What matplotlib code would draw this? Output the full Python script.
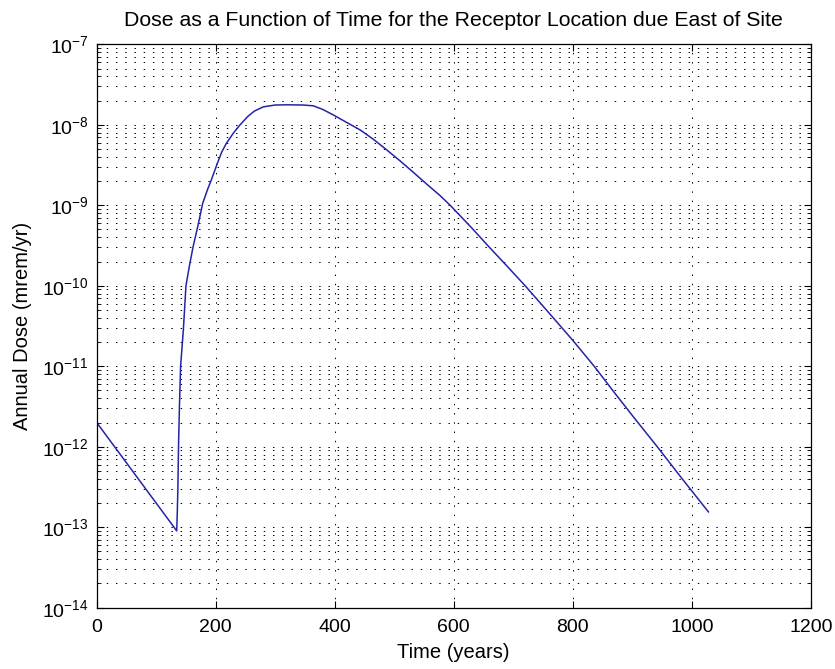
import numpy as np
import matplotlib
matplotlib.use("Agg")
import matplotlib.pyplot as plt
from matplotlib.ticker import LogLocator, FixedLocator, NullFormatter

plt.rcParams['font.family'] = ['Liberation Sans', 'DejaVu Sans']
plt.rcParams['mathtext.default'] = 'regular'

# Data
time_years = [0, 134.5, 135.5, 136.5, 137.5, 139, 141, 145.6, 150, 156, 162, 170,
              178, 186, 193, 202, 210, 218, 230, 241, 254, 265, 280, 300, 320,
              347, 364, 380, 398, 420, 443, 465, 487, 510, 532, 555, 577, 594,
              630, 660, 690, 720, 760, 800, 836, 870, 905, 942, 985, 1028]
annual_dose = [2.0e-12, 9.0e-14, 1.6e-13, 3.2e-13, 1.0e-12, 3.1e-12, 1.0e-11,
               2.8e-11, 1.0e-10, 1.8e-10, 3.05e-10, 5.5e-10,
               1.05e-9, 1.55e-9, 2.1e-9, 3.2e-9, 4.57e-9, 5.9e-9, 7.94e-9, 1.0e-8,
               1.27e-8, 1.48e-8, 1.67e-8, 1.76e-8, 1.77e-8,
               1.76e-8, 1.72e-8, 1.55e-8, 1.32e-8, 1.07e-8, 8.6e-9, 6.6e-9, 4.9e-9,
               3.55e-9, 2.57e-9, 1.82e-9, 1.32e-9, 1.0e-9,
               5.25e-10, 3.0e-10, 1.74e-10, 1.0e-10, 4.6e-11, 2.1e-11, 1.0e-11,
               4.7e-12, 2.2e-12, 1.0e-12, 3.9e-13, 1.55e-13]

title_text = "Dose as a Function of Time for the Receptor Location due East of Site"
xlabel_text = "Time (years)"
ylabel_text = "Annual Dose (mrem/yr)"
x_ticks = [0, 200, 400, 600, 800, 1000, 1200]
y_ticks = [1e-14, 1e-13, 1e-12, 1e-11, 1e-10, 1e-9, 1e-8, 1e-7]

fig = plt.figure(figsize=(8.35, 6.69), dpi=100)
ax = fig.add_axes([0.1158, 0.0916, 0.971 - 0.1158, 0.9338 - 0.0916])

ax.semilogy(time_years, annual_dose, color='#2424a8', linewidth=1.1)

ax.set_xlim(0, 1200)
ax.set_ylim(1e-14, 1e-7)
ax.xaxis.set_major_locator(FixedLocator(x_ticks))
ax.yaxis.set_major_locator(FixedLocator(y_ticks))
ax.yaxis.set_minor_locator(LogLocator(base=10, subs=np.arange(2, 10), numticks=100))
ax.yaxis.set_minor_formatter(NullFormatter())

dot = (0, (1.5, 8))
ax.grid(True, which='major', axis='both', color='black', linestyle=dot, linewidth=0.7)
ax.grid(True, which='minor', axis='y', color='black', linestyle=dot, linewidth=0.7)

ax.tick_params(which='both', direction='in', top=True, right=True, labelsize=14,
               color='black')
ax.tick_params(which='major', length=5, width=0.8)
ax.tick_params(which='minor', length=3, width=0.6)
ax.tick_params(axis='x', pad=8)
ax.tick_params(axis='y', pad=6)
for s in ax.spines.values():
    s.set_linewidth(0.9)

ax.set_title(title_text, fontsize=15.3, pad=13)
ax.set_xlabel(xlabel_text, fontsize=14.5, labelpad=5)
ax.set_ylabel(ylabel_text, fontsize=14.5, labelpad=7)

fig.savefig("out.png", dpi=100, facecolor='white')
